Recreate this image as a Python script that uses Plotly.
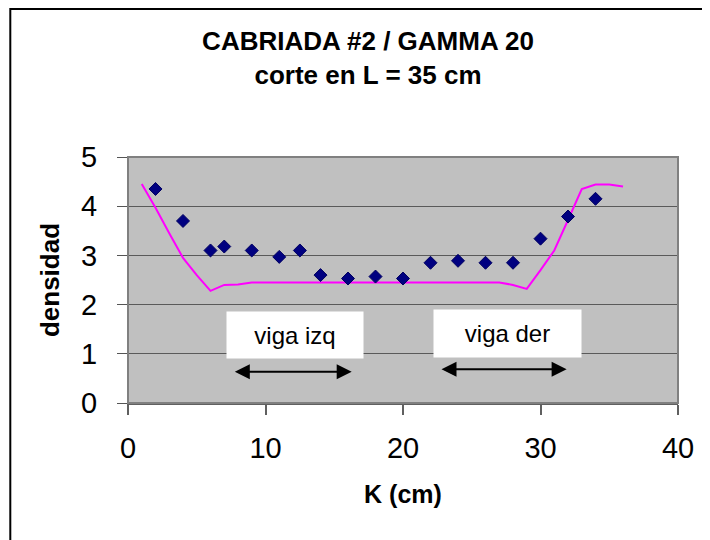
import plotly.graph_objects as go

# Measured points (K in cm, densidad)
k_pts = [2, 4, 6, 7, 9, 11, 12.5, 14, 16, 18, 20, 22, 24, 26, 28, 30, 32, 34]
dens_pts = [4.35, 3.70, 3.10, 3.18, 3.10, 2.97, 3.10, 2.60, 2.53, 2.57, 2.53,
            2.85, 2.89, 2.85, 2.85, 3.34, 3.79, 4.15]

# Model curve
k_fit = list(range(1, 37))
dens_fit = [4.45, 3.97, 3.45, 2.95, 2.60, 2.28, 2.40, 2.41, 2.45, 2.45,
            2.45, 2.45, 2.45, 2.45, 2.45, 2.45, 2.45, 2.45, 2.45, 2.45,
            2.45, 2.45, 2.45, 2.45, 2.45, 2.45, 2.45, 2.40, 2.32, 2.70,
            3.10, 3.72, 4.35, 4.44, 4.44, 4.40]

x_ticks = [0, 10, 20, 30, 40]
y_ticks = [0, 1, 2, 3, 4, 5]

FONT = "Liberation Sans, Arial, sans-serif"

fig = go.Figure()
fig.add_trace(go.Scatter(x=k_fit, y=dens_fit, mode="lines",
                         line=dict(color="#FF00FF", width=2),
                         showlegend=False, hoverinfo="skip"))
fig.add_trace(go.Scatter(x=k_pts, y=dens_pts, mode="markers",
                         marker=dict(symbol="diamond", size=10, color="#000080",
                                     line=dict(color="#000060", width=1)),
                         showlegend=False))

# label boxes
fig.add_annotation(x=12.18, y=1.376, xref="x", yref="y", text="viga izq",
                   showarrow=False, bgcolor="white", width=134, height=44,
                   font=dict(family=FONT, size=24, color="black"))
fig.add_annotation(x=27.6, y=1.415, xref="x", yref="y", text="viga der",
                   showarrow=False, bgcolor="white", width=145, height=45,
                   font=dict(family=FONT, size=24, color="black"))
# double arrows
for x0, x1, yy in [(7.66, 16.27, 0.636), (22.69, 31.9, 0.685)]:
    fig.add_annotation(x=x1, y=yy, ax=x0, ay=yy, xref="x", yref="y",
                       axref="x", ayref="y", text="", showarrow=True,
                       arrowhead=2, arrowside="end+start", arrowsize=1.5,
                       arrowwidth=2, arrowcolor="black", standoff=0, startstandoff=0)

# plot frame
fig.add_shape(type="rect", xref="paper", yref="paper", x0=0, x1=1, y0=0, y1=1,
              line=dict(color="#808080", width=2), layer="above")
# outer chart border
fig.add_shape(type="rect", xref="paper", yref="paper", x0=-0.214, x1=1.1,
              y0=-0.65, y1=1.6016, line=dict(color="black", width=2))

W, H = 702, 532
fig.update_layout(
    width=W, height=H,
    margin=dict(l=120, r=32, t=149, b=137),
    paper_bgcolor="white", plot_bgcolor="#C0C0C0",
    font=dict(family=FONT, color="black"),
    title=dict(text="<b>CABRIADA #2 / GAMMA 20</b><br><b>corte en L = 35 cm</b>",
               x=360 / W, xanchor="center", xref="container",
               y=1 - 42 / H, yanchor="middle", yref="container",
               font=dict(family=FONT, size=26, color="black")),
    xaxis=dict(range=[0, 40], tickvals=x_ticks, showgrid=False, zeroline=False,
               showline=True, linecolor="#606060", linewidth=2,
               ticks="outside", ticklen=10, tickcolor="#606060", tickwidth=2,
               tickfont=dict(family=FONT, size=29), ticklabelstandoff=8,
               title=dict(text="<b>K (cm)</b>", font=dict(family=FONT, size=25),
                          standoff=23)),
    yaxis=dict(range=[0, 5], tickvals=y_ticks, showgrid=True, gridcolor="#5a5a5a",
               gridwidth=1, zeroline=False, showline=True, linecolor="#333333",
               linewidth=1, ticks="outside", ticklen=10, tickcolor="#555555",
               tickfont=dict(family=FONT, size=29), ticklabelstandoff=14,
               title=dict(text="<b>densidad</b>", font=dict(family=FONT, size=26),
                          standoff=13)),
)

fig.write_html("out.html")
